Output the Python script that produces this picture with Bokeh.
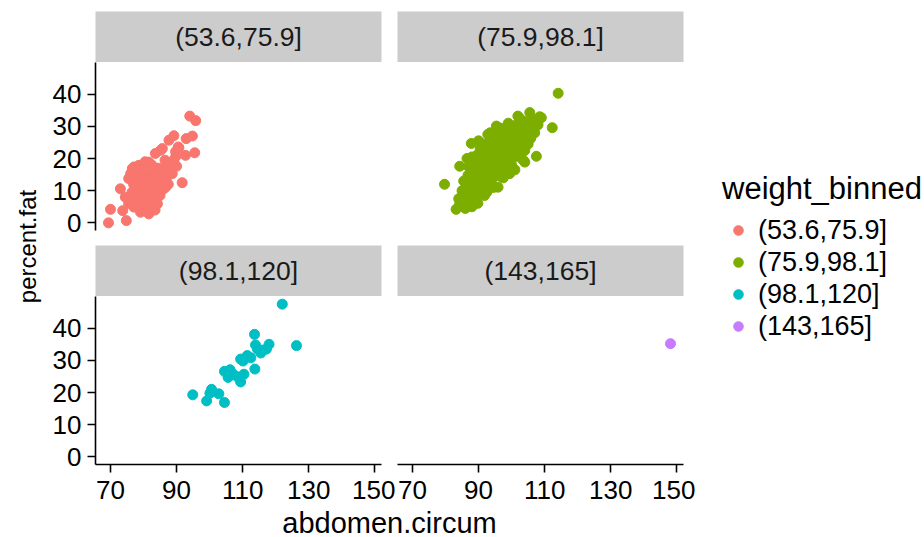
import math
from bokeh.plotting import figure
from bokeh.models import Range1d, FixedTicker, Label, Legend, LegendItem
from bokeh.layouts import row, column
from bokeh.embed import file_html
from bokeh.resources import INLINE

# ---------------- data ----------------
bins = ["(53.6,75.9]", "(75.9,98.1]", "(98.1,120]", "(143,165]"]
colors = ["#F8766D", "#7CAE00", "#00BFC4", "#C77CFF"]
x_ticks = [70, 90, 110, 130, 150]
y_ticks = [0, 10, 20, 30, 40]
x_title = "abdomen.circum"
y_title = "percent.fat"
legend_title = "weight_binned"

# (abdomen.circum, percent.fat) per weight bin
points_bin1 = [
    (94.0, 33.2), (95.8, 31.8), (94.8, 27.0), (92.9, 26.2), (89.2, 27.1), (87.7, 25.7), (90.5, 23.6),
    (95.5, 21.8), (92.7, 21.0), (85.2, 22.6), (83.6, 21.6), (89.7, 22.1), (81.6, 18.9), (78.6, 17.9),
    (76.6, 16.9), (75.5, 13.8), (73.0, 10.6), (70.0, 4.2), (69.4, 0.0), (73.7, 3.8), (74.8, 0.7),
    (91.7, 12.5), (89.7, 17.9), (87.2, 17.9), (81.6, 2.8), (84.2, 5.9), (79.1, 3.3), (90.7, 23.4),
    (85.7, 23.1), (89.7, 20.5), (79.1, 17.6), (77.1, 17.4), (76.1, 15.3), (74.5, 8.0), (77.1, 4.9),
    (86.7, 11.1), (88.7, 15.3), (90.0, 17.6), (87.4, 17.6), (76.5, 9.5), (77.5, 7.0), (78.0, 10.5),
    (78.5, 12.0), (79.0, 8.5), (79.5, 6.0), (80.0, 11.0), (80.0, 13.5), (80.5, 9.0), (81.0, 15.0),
    (81.0, 7.5), (81.5, 11.5), (82.0, 13.0), (82.0, 5.0), (82.5, 9.5), (83.0, 16.0), (83.0, 11.0),
    (83.5, 7.0), (83.5, 13.5), (84.0, 10.0), (84.5, 14.5), (84.5, 17.0), (85.0, 12.0), (85.0, 8.5),
    (85.5, 15.5), (86.0, 10.5), (86.0, 13.5), (86.5, 16.5), (87.0, 14.0), (87.5, 12.0), (88.0, 16.0),
    (88.5, 19.0), (80.0, 16.0), (82.5, 18.0), (78.0, 14.5), (75.5, 6.0), (77.0, 12.0), (79.5, 4.5),
    (83.5, 4.0), (86.5, 19.5), (80.5, 19.0),
]
points_bin2 = [
    (114.1, 40.3), (112.3, 29.6), (107.5, 20.7), (79.7, 12.0), (84.3, 17.6), (83.2, 4.2), (95.9, 11.1),
    (89.8, 6.1), (87.8, 24.7), (92.8, 27.5), (95.4, 30.1), (101.9, 33.2), (105.5, 34.3), (109.0, 32.7),
    (105.8, 26.3), (98.9, 29.4), (104.0, 18.9), (99.4, 15.3), (86.8, 14.8), (85.3, 8.5), (91.8, 8.5),
    (84.3, 5.9), (84.0, 7.5), (85.0, 10.0), (86.0, 6.5), (86.5, 11.5), (87.0, 9.0), (87.5, 13.0),
    (88.0, 10.5), (88.5, 16.0), (88.5, 7.5), (89.0, 12.5), (89.0, 19.0), (89.5, 14.5), (89.5, 21.0),
    (90.0, 10.0), (90.0, 17.0), (90.5, 13.0), (90.5, 19.5), (90.5, 23.0), (91.0, 15.5), (91.0, 21.5),
    (91.0, 11.5), (91.5, 18.0), (91.5, 24.5), (92.0, 14.0), (92.0, 20.0), (92.0, 16.5), (92.5, 22.0),
    (92.5, 12.0), (93.0, 18.5), (93.0, 25.0), (93.0, 15.0), (93.5, 20.5), (93.5, 23.5), (94.0, 17.0),
    (94.0, 13.5), (94.0, 21.5), (94.5, 19.0), (94.5, 26.5), (94.5, 15.5), (95.0, 22.5), (95.0, 18.0),
    (95.0, 24.0), (95.5, 20.0), (95.5, 16.5), (96.0, 27.5), (96.0, 21.5), (96.0, 18.5), (96.5, 23.5),
    (96.5, 14.5), (97.0, 25.5), (97.0, 20.0), (97.0, 17.0), (97.5, 22.5), (97.5, 28.5), (98.0, 19.5),
    (98.0, 24.0), (98.0, 26.0), (98.5, 21.5), (98.5, 17.5), (99.0, 23.0), (99.0, 27.0), (99.5, 20.5),
    (99.5, 25.0), (100.0, 29.0), (100.0, 22.5), (100.0, 18.0), (100.5, 26.5), (100.5, 24.0),
    (101.0, 20.5), (101.0, 28.0), (101.5, 23.5), (101.5, 30.5), (102.0, 25.5), (102.0, 21.5),
    (102.5, 27.5), (103.0, 24.0), (103.0, 30.0), (103.5, 26.0), (104.0, 28.5), (104.0, 22.5),
    (104.5, 31.5), (105.0, 27.0), (105.0, 24.5), (106.0, 29.5), (106.5, 32.0), (107.0, 28.0),
    (108.0, 30.5), (108.5, 33.0), (107.5, 31.0), (102.5, 32.5), (99.0, 31.0), (96.5, 29.5),
    (88.0, 20.5), (87.0, 17.5), (86.5, 20.0), (90.0, 25.5), (93.5, 28.0), (85.5, 13.0), (86.0, 4.5),
    (88.0, 5.0), (89.5, 8.5), (97.5, 14.0), (101.0, 16.5), (103.5, 19.5), (92.5, 9.5), (94.5, 11.0),
]
points_bin3 = [
    (122.0, 47.5), (126.3, 34.6), (113.6, 38.1), (118.0, 35.0), (113.9, 34.8), (115.5, 32.3),
    (114.5, 33.5), (111.4, 31.5), (110.1, 29.8), (109.4, 30.4), (113.7, 27.3), (104.5, 26.6),
    (105.9, 25.2), (106.2, 27.1), (110.4, 25.7), (108.4, 24.9), (109.4, 23.3), (105.6, 24.7),
    (100.6, 21.0), (102.8, 19.6), (94.9, 19.3), (99.1, 17.4), (104.5, 16.9), (100.1, 19.8),
    (116.0, 33.2), (112.5, 30.8), (117.2, 33.5), (107.0, 25.8),
]
points_bin4 = [(148.1, 35.2)]
all_points = [points_bin1, points_bin2, points_bin3, points_bin4]

# ---------------- styling / geometry ----------------
FONT = "Liberation Sans"
FRAME_W, FRAME_H, STRIP_H = 286, 168, 51
STRIP_FILL = "#CCCCCC"
TICK_FS, STRIP_FS, LEG_FS = "26px", "26.5px", "27px"
XTITLE_FS, YTITLE_FS, LEGTITLE_FS = "29px", "24px", "31px"

xs_all = [p[0] for pts in all_points for p in pts]
ys_all = [p[1] for pts in all_points for p in pts]
xpad = 0.05 * (max(xs_all) - min(xs_all))
ypad = 0.05 * (max(ys_all) - min(ys_all))
XR = (min(xs_all) - xpad, max(xs_all) + xpad)
YR = (min(ys_all) - ypad, max(ys_all) + ypad)


def base_fig(width, height, left, right, top, bottom, x_range=None, y_range=None,
             xloc=None, yloc=None):
    p = figure(width=width, height=height,
               x_range=x_range if x_range is not None else Range1d(0, 1),
               y_range=y_range if y_range is not None else Range1d(0, 1),
               x_axis_location=xloc, y_axis_location=yloc,
               output_backend="svg", toolbar_location=None, tools="",
               min_border_left=left, min_border_right=right,
               min_border_top=top, min_border_bottom=bottom)
    p.grid.visible = False
    p.outline_line_color = None
    p.background_fill_color = "white"
    p.border_fill_color = "white"
    return p


def style_axis(ax, ticks):
    ax.ticker = FixedTicker(ticks=ticks)
    ax.axis_line_color = "black"
    ax.axis_line_width = 1.6
    ax.major_tick_line_color = "black"
    ax.major_tick_line_width = 1.6
    ax.major_tick_out = 8
    ax.major_tick_in = 0
    ax.minor_tick_line_color = None
    ax.major_label_text_font = FONT
    ax.major_label_text_font_size = TICK_FS
    ax.major_label_text_color = "black"


def panel(idx, left, right, bottom, show_x, show_y):
    pts = all_points[idx]
    p = base_fig(left + FRAME_W + right, FRAME_H + bottom, left, right, 0, bottom,
                 x_range=Range1d(*XR), y_range=Range1d(*YR),
                 xloc="below" if show_x else None, yloc="left" if show_y else None)
    p.scatter(x=[q[0] for q in pts], y=[q[1] for q in pts], size=10,
              fill_color=colors[idx], line_color=colors[idx])
    if show_x:
        style_axis(p.xaxis[0], x_ticks)
        p.xaxis[0].major_label_standoff = 8
    if show_y:
        style_axis(p.yaxis[0], y_ticks)
        p.yaxis[0].major_label_standoff = 6
    return p


def strip(idx, left, right, top):
    s = base_fig(left + FRAME_W + right, STRIP_H + top, left, right, top, 0)
    s.background_fill_color = STRIP_FILL
    s.add_layout(Label(x=FRAME_W / 2, y=STRIP_H / 2, x_units="screen", y_units="screen",
                       text=bins[idx], text_align="center", text_baseline="middle",
                       text_font=FONT, text_font_size=STRIP_FS, text_color="#1A1A1A"))
    return s


YT_W = 48
L1, R1 = 47, 14   # left column borders
L2, R2 = 2, 12    # right column borders
TOTAL_H = 537
BOTTOM_AX = 40

s1 = strip(0, L1, R1, 11)
s2 = strip(1, L2, R2, 11)
p1 = panel(0, L1, R1, 15, False, True)
p2 = panel(1, L2, R2, 15, False, False)
s3 = strip(2, L1, R1, 0)
s4 = strip(3, L2, R2, 0)
p3 = panel(2, L1, R1, BOTTOM_AX, True, True)
p4 = panel(3, L2, R2, BOTTOM_AX, True, False)

grid_w = (L1 + FRAME_W + R1) + (L2 + FRAME_W + R2)
used_h = (STRIP_H + 11) + (FRAME_H + 15) + STRIP_H + (FRAME_H + BOTTOM_AX)
xt_h = TOTAL_H - used_h
xt = base_fig(grid_w, xt_h, 0, 0, 0, 0)
xt.add_layout(Label(x=L1 + (FRAME_W * 2 + R1 + L2) / 2, y=15, x_units="screen", y_units="screen",
                    text=x_title, text_align="center", text_baseline="middle",
                    text_font=FONT, text_font_size=XTITLE_FS, text_color="black"))

yt = base_fig(YT_W, TOTAL_H, 0, 0, 0, 0)
yt.add_layout(Label(x=27, y=TOTAL_H - 246, x_units="screen", y_units="screen", angle=math.pi / 2,
                    text=y_title, text_align="center", text_baseline="middle",
                    text_font=FONT, text_font_size=YTITLE_FS, text_color="black"))

leg_w = 922 - YT_W - grid_w
lf = base_fig(leg_w, TOTAL_H, 0, 0, 0, 0)
items = []
for pts, b, c in zip(all_points, bins, colors):
    # the bin's data lies outside this figure's 0..1 ranges: only its legend key shows
    r = lf.scatter(x=[q[0] for q in pts], y=[q[1] for q in pts], size=10, fill_color=c, line_color=c)
    items.append(LegendItem(label=b, renderers=[r]))
leg = Legend(items=items, title=legend_title, location=(27, 195),
             glyph_width=32, glyph_height=24, label_standoff=4, spacing=0,
             label_height=32, padding=10, margin=0, title_standoff=7,
             label_text_font=FONT, label_text_font_size=LEG_FS, label_text_color="black",
             title_text_font=FONT, title_text_font_size=LEGTITLE_FS, title_text_font_style="normal",
             title_text_color="black", border_line_color=None, background_fill_alpha=0)
lf.add_layout(leg)

layout = row(yt, column(row(s1, s2), row(p1, p2), row(s3, s4), row(p3, p4), xt), lf)

open("out.html", "w").write(file_html(layout, INLINE))
